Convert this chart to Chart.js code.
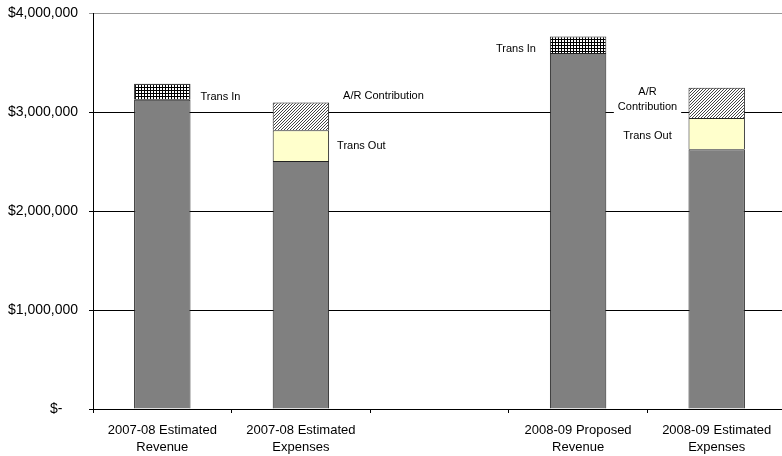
<!DOCTYPE html>
<html>
<head>
<meta charset="utf-8">
<script src="https://cdn.jsdelivr.net/npm/chart.js@4/dist/chart.umd.min.js"></script>
<style>
  html, body { margin: 0; padding: 0; background: #fff; overflow: hidden; }
  #wrap { position: relative; width: 786px; height: 456px; }
</style>
</head>
<body>
<div id="wrap"><canvas id="budget"></canvas></div>
<script>
// Budget columns (blank slot separates the two fiscal years)
const categories = [
  ["2007-08 Estimated", "Revenue"],
  ["2007-08 Estimated", "Expenses"],
  "",
  ["2008-09 Proposed", "Revenue"],
  ["2008-09 Estimated", "Expenses"]
];
const baseAmounts    = [3125000, 2505000, null, 3595000, 2625000];
const transIn        = [161000, null, null, 168000, null];
const transOut       = [null, 311000, null, null, 315000];
const arContribution = [null, 280000, null, null, 306000];

const yTicks = [0, 1000000, 2000000, 3000000, 4000000];

const FONT = "'Liberation Sans', Arial, Helvetica, sans-serif";

// Fill patterns for the stacked segments
function makePattern(size, paint) {
  const c = document.createElement('canvas');
  c.width = size; c.height = size;
  const g = c.getContext('2d');
  paint(g);
  return g.createPattern(c, 'repeat');
}
const cross = makePattern(3, g => {
  g.fillStyle = '#000'; g.fillRect(0, 0, 3, 3);
  g.fillStyle = '#fff'; g.fillRect(1, 1, 2, 2);
});
const diag = makePattern(3, g => {
  g.fillStyle = '#fff'; g.fillRect(0, 0, 3, 3);
  g.fillStyle = '#444';
  for (let i = 0; i < 3; i++) g.fillRect(i, 2 - i, 1, 1);
});

// Text callouts attached to stacked segments
const segmentNotes = {
  id: 'segmentNotes',
  afterDatasetsDraw(chart, args, opts) {
    const ctx = chart.ctx;
    ctx.save();
    ctx.font = '11px ' + FONT;
    ctx.textBaseline = 'middle';
    opts.notes.forEach(n => {
      const el = chart.getDatasetMeta(n.dataset).data[n.index];
      if (!el) return;
      const p = el.getProps(['x', 'y', 'base', 'width'], true);
      const left = p.x - p.width / 2, right = p.x + p.width / 2;
      const mid = (p.y + p.base) / 2;
      let x, y, align;
      if (n.place === 'right-mid') { x = right + n.dx; y = mid + n.dy; align = 'left'; }
      else if (n.place === 'right-top') { x = right + n.dx; y = p.y + n.dy; align = 'left'; }
      else if (n.place === 'left-mid') { x = left - n.dx; y = mid + n.dy; align = n.align || 'right'; }
      else { x = left - n.dx; y = p.y + n.dy; align = n.align || 'right'; }
      const lines = Array.isArray(n.text) ? n.text : [n.text];
      const lh = 15;
      const w = Math.max(...lines.map(t => ctx.measureText(t).width));
      let bx = align === 'left' ? x : (align === 'center' ? x - w / 2 : x - w);
      ctx.fillStyle = '#fff';
      ctx.fillRect(bx - 4, y - 7, w + 8, lh * (lines.length - 1) + 14);
      ctx.fillStyle = '#000';
      ctx.textAlign = align;
      lines.forEach((t, i) => ctx.fillText(t, x, y + i * lh));
    });
    ctx.restore();
  }
};

new Chart(document.getElementById('budget'), {
  type: 'bar',
  data: {
    labels: categories,
    datasets: [
      { label: 'Base', data: baseAmounts, backgroundColor: '#808080' },
      { label: 'Trans In', data: transIn, backgroundColor: cross },
      { label: 'Trans Out', data: transOut, backgroundColor: '#FFFFCC' },
      { label: 'A/R Contribution', data: arContribution, backgroundColor: diag }
    ]
  },
  plugins: [segmentNotes],
  options: {
    responsive: true,
    maintainAspectRatio: false,
    animation: false,
    layout: { padding: { top: 13, right: 0, bottom: 0, left: 0 } },
    datasets: {
      bar: {
        borderColor: '#222',
        borderWidth: 1,
        borderSkipped: 'start',
        barPercentage: 0.407,
        categoryPercentage: 1
      }
    },
    plugins: {
      legend: { display: false },
      tooltip: { enabled: false },
      segmentNotes: {
        notes: [
          { dataset: 1, index: 0, text: 'Trans In', place: 'right-mid', dx: 10, dy: 5 },
          { dataset: 3, index: 1, text: 'A/R Contribution', place: 'right-top', dx: 14, dy: -7 },
          { dataset: 2, index: 1, text: 'Trans Out', place: 'right-mid', dx: 8, dy: 0 },
          { dataset: 1, index: 3, text: 'Trans In', place: 'left-mid', dx: 14, dy: 4 },
          { dataset: 3, index: 4, text: ['A/R', 'Contribution'], place: 'left-top', dx: 41, dy: 4, align: 'center' },
          { dataset: 2, index: 4, text: 'Trans Out', place: 'left-mid', dx: 41, dy: 2, align: 'center' }
        ]
      }
    },
    scales: {
      x: {
        stacked: true,
        afterFit(scale) {
          scale.height = 47;
          scale.paddingLeft = 0;
          scale.paddingRight = 0;
        },
        grid: {
          offset: true,
          drawOnChartArea: false,
          drawTicks: true,
          tickLength: 4,
          tickColor: '#000'
        },
        border: { display: true, color: '#000', width: 1 },
        ticks: {
          color: '#000',
          padding: 9,
          maxRotation: 0,
          autoSkip: false,
          font: { family: FONT, size: 13, lineHeight: 1.3 }
        }
      },
      y: {
        stacked: true,
        min: 0,
        max: 4000000,
        afterFit(scale) {
          scale.width = 93;
          scale.paddingTop = 0;
          scale.paddingBottom = 0;
        },
        afterBuildTicks(scale) { scale.ticks = yTicks.map(v => ({ value: v })); },
        grid: {
          color: ctx => (ctx.tick && ctx.tick.value === 4000000) ? '#999' : '#000',
          tickColor: ctx => (ctx.tick && ctx.tick.value === 4000000) ? '#999' : '#000',
          drawTicks: true,
          tickLength: 4,
          lineWidth: 1
        },
        border: { display: true, color: '#000', width: 1 },
        ticks: {
          color: '#000',
          padding: 11,
          font: { family: FONT, size: 14 },
          callback: v => v === 0 ? '$-\u2007\u2007' : '$' + Number(v).toLocaleString('en-US')
        }
      }
    }
  }
});
</script>
</body>
</html>
